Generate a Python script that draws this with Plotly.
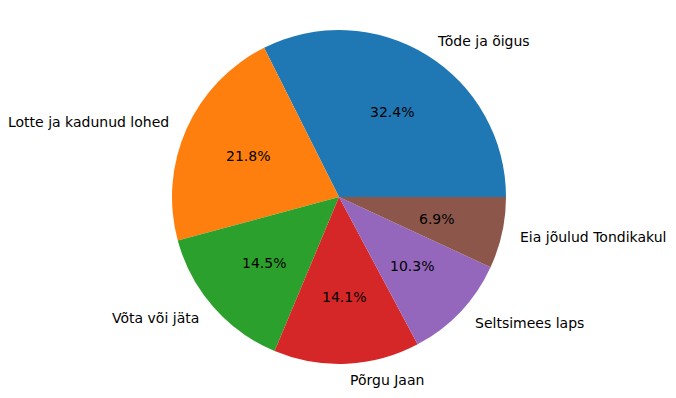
import math
import plotly.graph_objects as go

labels = ["Tõde ja õigus", "Lotte ja kadunud lohed", "Võta või jäta", "Põrgu Jaan",
          "Seltsimees laps", "Eia jõulud Tondikakul"]
values = [32.4, 21.8, 14.5, 14.1, 10.3, 6.9]
colors = ["#1f77b4", "#ff7f0e", "#2ca02c", "#d62728", "#9467bd", "#8c564b"]

W, H = 676, 398
cx, cy, R = 339, 197, 167
FS = 14

total = sum(values)
# Plotly places the first slice over [rotation, rotation + share] (clock degrees)
# regardless of direction; matplotlib starts at 3 o'clock going counterclockwise.
rot = 90 - 360 * values[0] / total

fig = go.Figure(go.Pie(
    labels=labels, values=values, sort=False, direction="counterclockwise",
    rotation=rot, textinfo="none", hoverinfo="label+percent",
    marker=dict(colors=colors, line=dict(width=0)),
    domain=dict(x=[(cx - R) / W, (cx + R) / W], y=[1 - (cy + R) / H, 1 - (cy - R) / H]),
    showlegend=False,
))

cum = 0
annotations = []
for lab, v in zip(labels, values):
    mid = 2 * math.pi * (cum + v / 2) / total
    cum += v
    c, s = math.cos(mid), math.sin(mid)
    annotations.append(dict(
        x=(cx + 0.6 * R * c) / W, y=1 - (cy - 0.6 * R * s) / H, xref="paper", yref="paper",
        text=f"{v / total * 100:.1f}%", showarrow=False, xanchor="center", yanchor="middle",
        font=dict(size=FS, color="black", family="DejaVu Sans")))
    annotations.append(dict(
        x=(cx + 1.1 * R * c) / W, y=1 - (cy - 1.1 * R * s) / H, xref="paper", yref="paper",
        text=lab, showarrow=False, xanchor="left" if c > 0 else "right", yanchor="middle",
        font=dict(size=FS, color="black", family="DejaVu Sans")))

fig.update_layout(
    width=W, height=H, margin=dict(l=0, r=0, t=0, b=0),
    paper_bgcolor="white", plot_bgcolor="white",
    annotations=annotations,
    font=dict(family="DejaVu Sans", size=FS),
)
fig.write_html("out.html", config={"displayModeBar": False},
               post_script="document.body.style.margin='0';")
